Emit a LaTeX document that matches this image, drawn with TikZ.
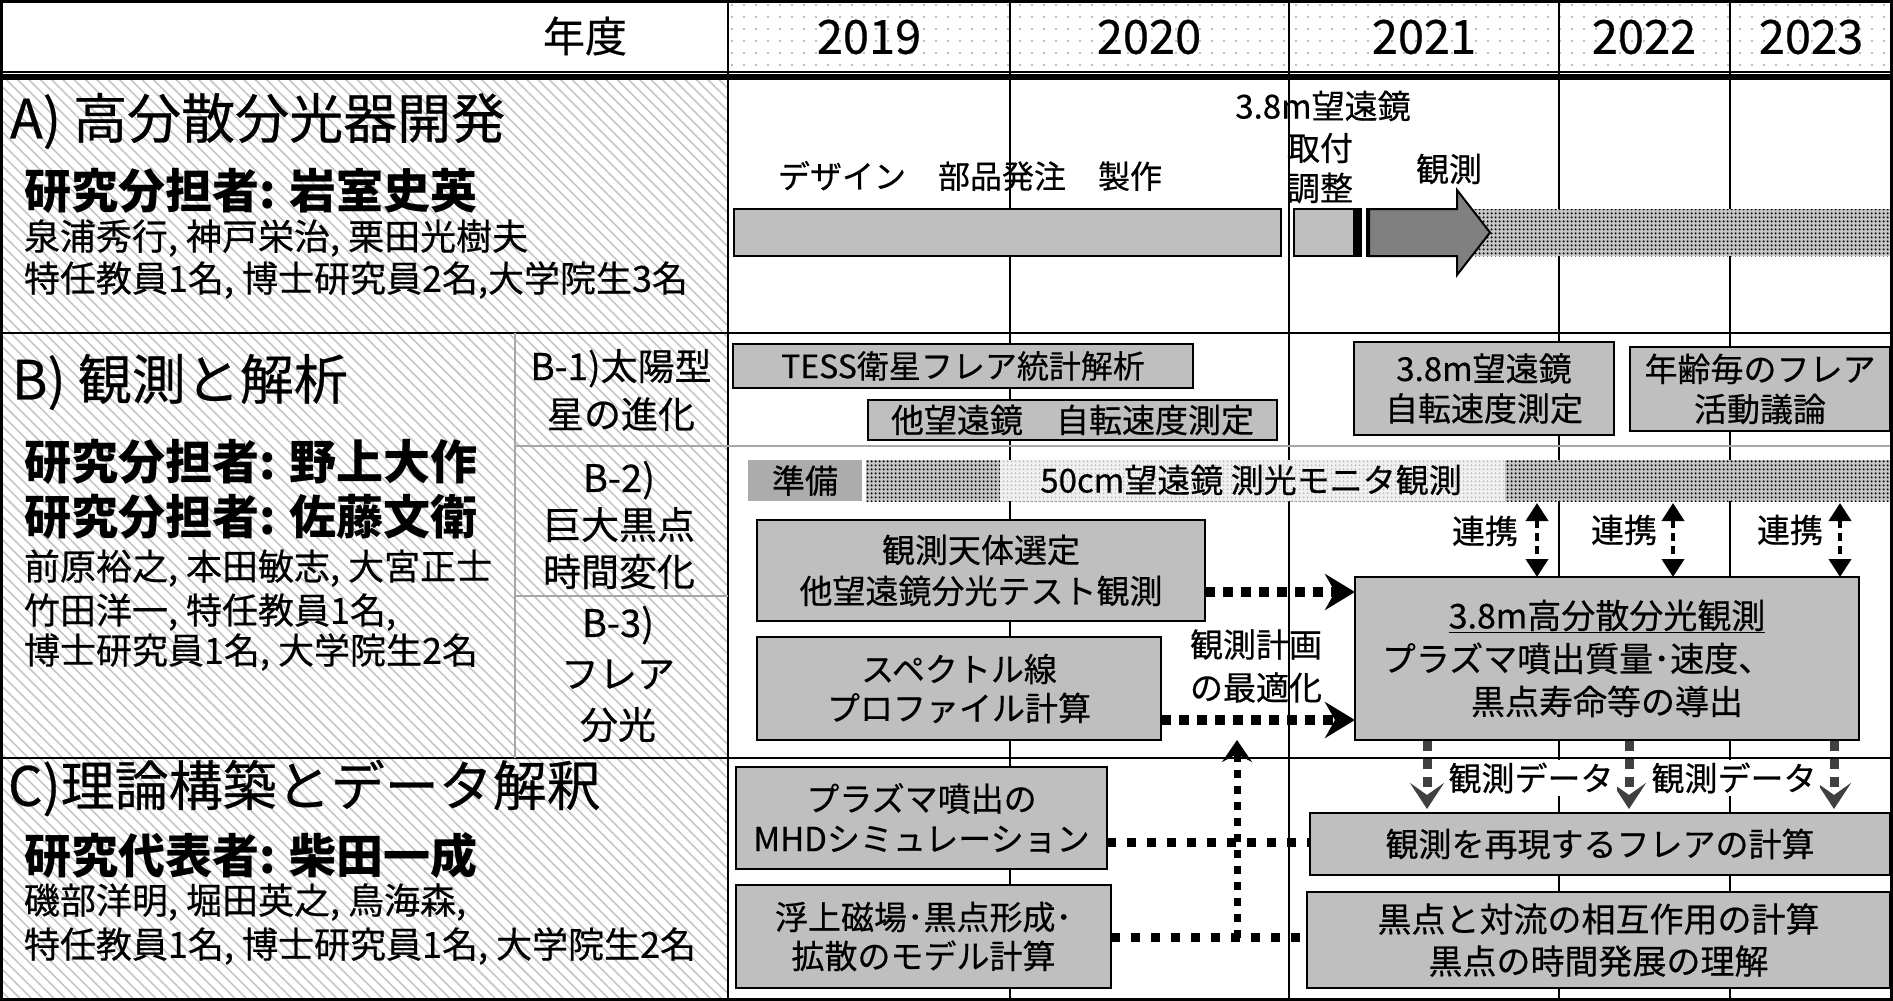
\documentclass[tikz,border=0pt]{standalone}
\usepackage{fontspec}
\setmainfont{Noto Sans CJK JP}[UprightFeatures={FakeBold=0.5}]
\usetikzlibrary{arrows.meta,patterns.meta}
\begin{document}
\begin{tikzpicture}[x=1pt,y=-1pt,
  every node/.style={inner sep=0pt, outer sep=0pt},
  fs/.style 2 args={font=\fontsize{#1}{#2}\selectfont},
  box/.style={draw=black, line width=2.5pt, fill=gray!50, align=center},
  gridline/.style={line width=2pt},
  thingray/.style={draw=gray!70, line width=1.5pt},
  darkdots/.style={pattern={Dots[distance=4pt,radius=1.3pt]}, pattern color=black},
  dotarrow/.style={line width=10pt, dash pattern=on 10pt off 8pt, -{Stealth[length=30pt,width=36pt,inset=10pt]}},
  dotline/.style={line width=9pt, dash pattern=on 9pt off 11pt},
  vdotarrow/.style={line width=7pt, dash pattern=on 8pt off 8pt, -{Stealth[length=22pt,width=30pt,inset=8pt]}},
  linkarrow/.style={line width=4pt, dash pattern=on 8pt off 5pt, {Triangle[length=18pt,width=22pt]}-{Triangle[length=18pt,width=22pt]}},
  dataarrow/.style={draw=black!75, line width=9pt, dash pattern=on 10pt off 8pt, -{Stealth[length=26pt,width=34pt,inset=12pt]}, shorten >=4pt},
]
\useasboundingbox (0,0) rectangle (1893,1001);
\fill[white] (0,0) rectangle (1893,1001);
% backgrounds
\fill[pattern={Dots[distance=12pt,radius=1.2pt]},pattern color=gray!70] (729,2) rectangle (1891,72);
\fill[pattern={Lines[angle=-45,distance=8pt,line width=1.6pt]},pattern color=gray!45] (2,80) rectangle (727,998);
% grid
\foreach \x in {1010,1289,1559,1730} \draw[gridline] (\x,2) -- (\x,998);
\draw[gridline] (728,2) -- (728,998);
\draw[line width=1.5pt] (2,72) -- (1891,72);
\draw[line width=6pt] (2,77) -- (1891,77);
\draw[gridline] (2,333) -- (1891,333);
\draw[gridline] (2,758) -- (1891,758);
\draw[thingray] (515,446) -- (1891,446);
\draw[thingray] (515,596) -- (728,596);
\draw[thingray] (515,333) -- (515,758);

% header
\node[fs={42}{48}] (nendo) at (585,36) {年度};
\node[fs={47}{52}] (y19) at (869,37) {2019};
\node[fs={47}{52}] (y20) at (1149,37) {2020};
\node[fs={47}{52}] (y21) at (1424,37) {2021};
\node[fs={47}{52}] (y22) at (1644,37) {2022};
\node[fs={47}{52}] (y23) at (1811,37) {2023};

% left column A
\node[fs={54}{60}, anchor=west] (ha) at (10,121) {A) 高分散分光器開発};
\node[fs={47}{52}, anchor=west] (pa) at (24,191) {\bfseries 研究分担者: 岩室史英};
\node[fs={36}{40}, anchor=west] (ma1) at (24,238) {泉浦秀行, 神戸栄治, 栗田光樹夫};
\node[fs={36}{40}, anchor=west] (ma2) at (24,280) {特任教員1名, 博士研究員2名,大学院生3名};
% left column B
\node[fs={54}{60}, anchor=west] (hb) at (12,382) {B) 観測と解析};
\node[fs={47}{52}, anchor=west] (pb1) at (24,462) {\bfseries 研究分担者: 野上大作};
\node[fs={47}{52}, anchor=west] (pb2) at (24,517) {\bfseries 研究分担者: 佐藤文衛};
\node[fs={36}{40}, anchor=west] (mb1) at (24,568) {前原裕之, 本田敏志, 大宮正士};
\node[fs={36}{40}, anchor=west] (mb2) at (24,612) {竹田洋一, 特任教員1名,};
\node[fs={36}{40}, anchor=west] (mb3) at (24,652) {博士研究員1名, 大学院生2名};
\node[fs={37}{48}, align=center] (b1) at (621,390) {B-1)太陽型\\星の進化};
\node[fs={38}{47}, align=center] (b2) at (619,525) {B-2)\\巨大黒点\\時間変化};
\node[fs={38}{51}, align=center] (b3) at (618,674) {B-3)\\フレア\\分光};
% left column C
\node[fs={54}{60}, anchor=west] (hc) at (8,788) {C)理論構築とデータ解釈};
\node[fs={47}{52}, anchor=west] (pc) at (24,856) {\bfseries 研究代表者: 柴田一成};
\node[fs={36}{40}, anchor=west] (mc1) at (24,902) {磯部洋明, 堀田英之, 鳥海森,};
\node[fs={36}{40}, anchor=west] (mc2) at (24,946) {特任教員1名, 博士研究員1名, 大学院生2名};

% row A
\fill[gray!45] (1473,209) rectangle (1891,256);
\fill[darkdots] (1473,209) rectangle (1891,256);
\filldraw[fill=gray!50, line width=2pt] (734,209) rectangle (1281,256);
\filldraw[fill=gray!50, line width=2pt] (1294,209) rectangle (1354,256);
\filldraw[fill=gray, line width=2pt] (1369,209) -- (1457,209) -- (1457,190) -- (1490,232.5) -- (1457,275) -- (1457,256) -- (1369,256) -- cycle;
\fill[black] (1353,208) rectangle (1362,257);
\draw[line width=2.5pt] (1367,208) -- (1367,257);
\node[fs={33}{40}] (tel) at (1323,106) {3.8m望遠鏡};
\node[fs={33}{40}, anchor=west] (tori) at (1287,148) {取付};
\node[fs={33}{40}, anchor=west] (chosei) at (1287,188) {調整};
\node[fs={33}{40}] (kan) at (1449,169) {観測};
\node[fs={32}{40}] (design) at (970,176) {デザイン　部品発注　製作};

% row B
\node[box, fs={32}{40}, minimum width=460pt, minimum height=44pt] (tess) at (963,366) {TESS衛星フレア統計解析};
\node[box, fs={33}{40}, minimum width=409pt, minimum height=40pt] (otherrot) at (1072.5,420) {他望遠鏡　自転速度測定};
\node[box, fs={33}{40}, minimum width=260pt, minimum height=93pt] (rot) at (1484,388.5) {3.8m望遠鏡\\自転速度測定};
\node[box, fs={33}{40}, minimum width=260pt, minimum height=84pt] (age) at (1760,389) {年齢毎のフレア\\活動議論};

\fill[gray!45] (866,460) rectangle (1891,501);
\fill[darkdots] (866,460) rectangle (1891,501);
\fill[gray!12] (1000,460) rectangle (1505,501);
\fill[pattern={Dots[distance=4pt,radius=1.2pt]},pattern color=gray!55] (1000,460) rectangle (1505,501);
\node[fill=gray!65, fs={33}{40}, minimum width=114pt, minimum height=41pt] (junbi) at (805,480.5) {準備};
\node[fs={33}{40}] (band) at (1251,480) {50cm望遠鏡 測光モニタ観測};

\node[box, fs={33}{41}, minimum width=448pt, minimum height=101pt] (sel) at (981,570.5) {観測天体選定\\他望遠鏡分光テスト観測};
\node[box, fs={33}{39}, minimum width=404pt, minimum height=103pt] (spec) at (959,688.5) {スペクトル線\\プロファイル計算};
\node[box, fs={34}{43}, minimum width=504pt, minimum height=163pt] (hds) at (1607,658.5) {\underline{3.8m高分散分光観測}\\プラズマ噴出質量･速度、\rule{60pt}{0pt}\\黒点寿命等の導出};
\node[fs={33}{43}, align=center] (opt) at (1256,666) {観測計画\\の最適化};

\node[fs={33}{40}] (r1) at (1485,531) {連携};
\node[fs={33}{40}] (r2) at (1624,530) {連携};
\node[fs={33}{40}] (r3) at (1790,530) {連携};
\foreach \x [count=\i] in {1537,1673,1840} {
  \coordinate (k\i) at (\x,503);
  \draw[linkarrow] (k\i) -- (k\i |- hds.north);
}

\coordinate (a1) at ([yshift=-21.5pt]sel.east);
\draw[dotarrow] (a1) -- (a1 -| hds.west);
\coordinate (a2) at ([yshift=-31.5pt]spec.east);
\draw[dotarrow] (a2) -- (a2 -| hds.west);

% row C
\node[box, fs={33}{40}, minimum width=371pt, minimum height=102pt] (mhd) at (921.5,818) {プラズマ噴出の\\MHDシミュレーション};
\node[box, fs={33}{39}, minimum width=375pt, minimum height=103pt] (emerge) at (923.5,936.5) {浮上磁場･黒点形成･\\拡散のモデル計算};
\node[box, fs={33}{40}, minimum width=580pt, minimum height=62pt] (flare) at (1600,844) {観測を再現するフレアの計算};
\node[box, fs={34}{42}, minimum width=583pt, minimum height=96pt] (spot) at (1598.5,940) {黒点と対流の相互作用の計算\\黒点の時間発展の理解};

\coordinate (c1) at ([yshift=-24pt]mhd.east);
\draw[dotline] (c1) -- (c1 -| flare.west);
\coordinate (c2) at ([yshift=-1pt]emerge.east);
\draw[dotline] (c2) -- (c2 -| spot.west);
\coordinate (v0) at (1237,937.5);
\draw[vdotarrow] (v0) -- (v0 |- spec.south);

\foreach \x [count=\i] in {1427,1629,1834} {
  \coordinate (d\i) at (\x,741);
  \draw[dataarrow] (d\i) -- (d\i |- flare.north);
}
\node[fill=white, inner sep=3pt, fs={33}{40}] (od1) at (1531,778) {観測データ};
\node[fill=white, inner sep=3pt, fs={33}{40}] (od2) at (1734,778) {観測データ};

\draw[line width=3pt] (1.5,1.5) rectangle (1891.5,999.5);
\end{tikzpicture}
\end{document}
